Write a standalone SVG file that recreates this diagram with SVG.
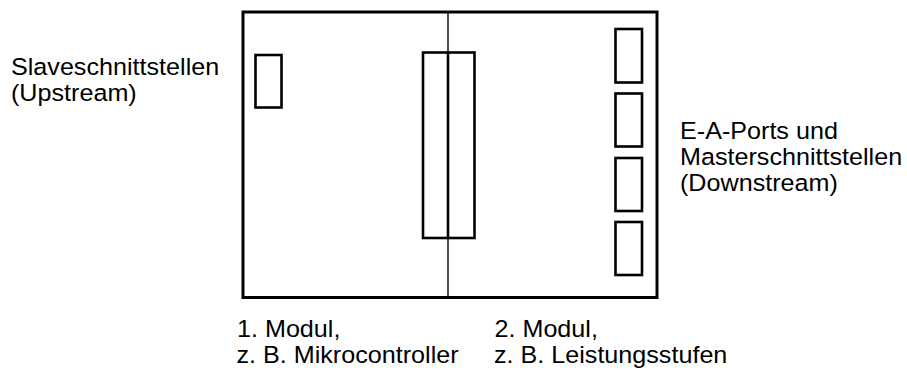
<svg xmlns="http://www.w3.org/2000/svg" width="907" height="376" viewBox="0 0 907 376">
<style>
.frame{fill:none;stroke:#000;stroke-width:3}
.box{fill:none;stroke:#000;stroke-width:2.6}
.div{stroke:#000;stroke-width:1.4}
.lbl{font-family:"Liberation Sans",Arial,sans-serif;font-size:23.5px;fill:#000}
</style>
<rect width="907" height="376" fill="#fff"/>
<g id="frame">
<rect class="frame" x="243" y="12" width="414" height="285.5"/>
</g>
<g id="connectors">
<line class="div" x1="448" y1="12" x2="448" y2="297.5"/>
</g>
<g id="slave-port">
<rect class="box" x="255.5" y="55" width="26" height="52.5"/>
</g>
<g id="coupling">
<rect class="box" x="423" y="52.5" width="51.5" height="185.5"/>
<line x1="448" y1="52.5" x2="448" y2="238" stroke="#000" stroke-width="2.6"/>
</g>
<g id="ports">
<rect class="box" x="615.5" y="29" width="26.5" height="53.5"/>
<rect class="box" x="615.5" y="93.5" width="26.5" height="53"/>
<rect class="box" x="615.5" y="158" width="26.5" height="53"/>
<rect class="box" x="615.5" y="222" width="26.5" height="53"/>
</g>
<g id="label-upstream">
<text class="lbl" transform="scale(1.07 1)"><tspan x="10.28" y="75.5">Slaveschnittstellen</tspan><tspan x="10.28" y="101.5">(Upstream)</tspan></text>
</g>
<g id="label-downstream">
<text class="lbl" transform="scale(1.07 1)"><tspan x="635.51" y="139">E-A-Ports und</tspan><tspan x="635.51" y="165">Masterschnittstellen</tspan><tspan x="635.51" y="191">(Downstream)</tspan></text>
</g>
<g id="label-modul1">
<text class="lbl" transform="scale(1.07 1)"><tspan x="221.5" y="337.5">1. Modul,</tspan><tspan x="221.03" y="363">z. B. Mikrocontroller</tspan></text>
</g>
<g id="label-modul2">
<text class="lbl" transform="scale(1.07 1)"><tspan x="462.15" y="337.5">2. Modul,</tspan><tspan x="461.68" y="363">z. B. Leistungsstufen</tspan></text>
</g>
</svg>
